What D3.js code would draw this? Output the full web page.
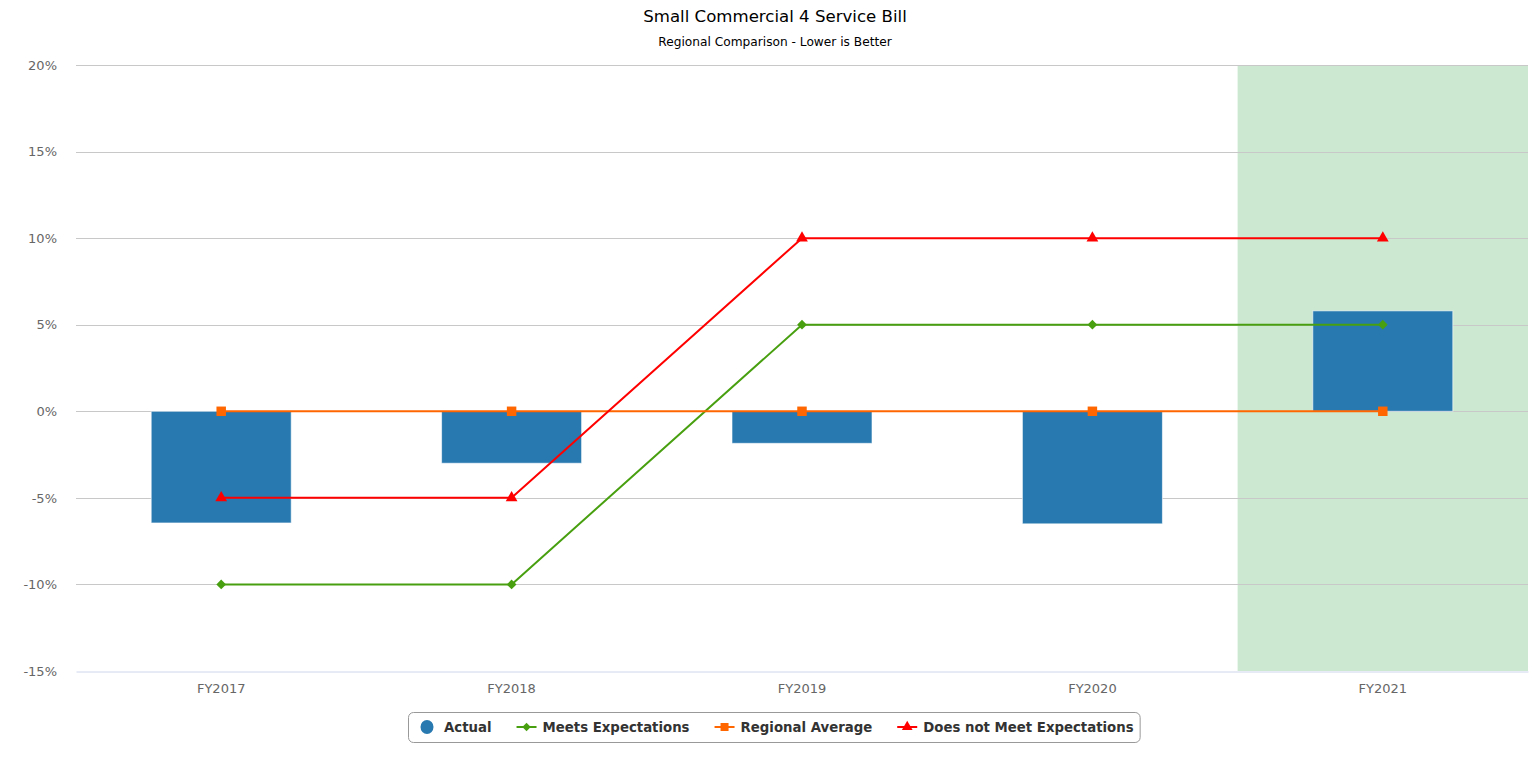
<!DOCTYPE html>
<html>
<head>
<meta charset="utf-8">
<script src="https://cdn.jsdelivr.net/npm/d3@7"></script>
<style>
  html, body { margin: 0; padding: 0; background: #fff; }
  svg { display: block; font-family: "DejaVu Sans", Verdana, sans-serif; }
</style>
</head>
<body>
<svg id="chart" width="1532" height="772"></svg>
<script>
// Fiscal years on the x axis
const categories = ["FY2017", "FY2018", "FY2019", "FY2020", "FY2021"];
// Actual bill change (%)
const actual = [-6.45, -3.0, -1.85, -6.5, 5.8];
// Thresholds (%)
const meetsExpectations = [-10, -10, 5, 5, 5];
const regionalAverage = [0, 0, 0, 0, 0];
const doesNotMeet = [-5, -5, 10, 10, 10];
// Y axis ticks (%)
const yTicks = [-15, -10, -5, 0, 5, 10, 15, 20];
// Highlighted year
const highlightYear = "FY2021";

const svg = d3.select("#chart");
const margin = { left: 76, right: 4, top: 65, bottom: 101 };
const W = 1532, H = 772;

const x = d3.scaleBand().domain(categories).range([margin.left, W - margin.right]).paddingInner(0).paddingOuter(0);
const y = d3.scaleLinear().domain([-15, 20]).range([H - margin.bottom, margin.top]);
const cx = d => x(d) + x.bandwidth() / 2;

// Title and subtitle
svg.append("text").attr("x", 775).attr("y", 22).attr("text-anchor", "middle")
  .attr("font-size", 16.6).attr("fill", "#000").text("Small Commercial 4 Service Bill");
svg.append("text").attr("x", 775).attr("y", 46).attr("text-anchor", "middle")
  .attr("font-size", 12.2).attr("fill", "#000").text("Regional Comparison - Lower is Better");

// Highlight band for the current year
svg.append("rect")
  .attr("x", x(highlightYear)).attr("y", y(20))
  .attr("width", x.bandwidth()).attr("height", y(-15) - y(20))
  .attr("fill", "#cde8d0");

// Grid lines
svg.append("g").selectAll("line").data(yTicks.filter(t => t !== -15)).join("line")
  .attr("x1", margin.left).attr("x2", W - margin.right)
  .attr("y1", d => Math.round(y(d)) + 0.5).attr("y2", d => Math.round(y(d)) + 0.5)
  .attr("stroke", "#c8c8c8").attr("stroke-width", 1);

// Y axis
const yAxis = svg.append("g").attr("transform", `translate(${margin.left - 19},0)`)
  .call(d3.axisLeft(y).tickValues(yTicks).tickFormat(d => d + "%").tickSize(0).tickPadding(0));
yAxis.select(".domain").remove();
yAxis.selectAll("text").attr("font-size", 13).attr("fill", "#666").attr("font-family", "DejaVu Sans, sans-serif");

// X axis
const xAxis = svg.append("g").attr("transform", `translate(0,${Math.round(y(-15)) + 0.5})`)
  .call(d3.axisBottom(x).tickSize(0).tickPadding(12));
xAxis.select(".domain").attr("stroke", "#ccd6eb");
xAxis.selectAll("text").attr("font-size", 13).attr("fill", "#666").attr("font-family", "DejaVu Sans, sans-serif");

// Actual columns
const barW = 140;
svg.append("g").selectAll("rect").data(actual).join("rect")
  .attr("x", (d, i) => cx(categories[i]) - barW / 2)
  .attr("y", d => y(Math.max(0, d)))
  .attr("width", barW)
  .attr("height", d => Math.abs(y(d) - y(0)))
  .attr("fill", "#2779b0")
  .attr("stroke", "#ffffff").attr("stroke-opacity", 0.6).attr("stroke-width", 1);

const line = d3.line().x((d, i) => cx(categories[i])).y(d => y(d));

function drawSeries(values, color, shape, size) {
  svg.append("path").datum(values).attr("d", line)
    .attr("fill", "none").attr("stroke", color).attr("stroke-width", 2);
  svg.append("g").selectAll("path").data(values).join("path")
    .attr("transform", (d, i) => `translate(${cx(categories[i])},${y(d)})`)
    .attr("d", d3.symbol().type(shape).size(size)())
    .attr("fill", color);
}

drawSeries(meetsExpectations, "#48a010", d3.symbolDiamond2 || d3.symbolDiamond, 60);
drawSeries(regionalAverage, "#ff6600", d3.symbolSquare, 90);
drawSeries(doesNotMeet, "#ff0000", d3.symbolTriangle, 60);

// Legend
const legendItems = [
  { name: "Actual", color: "#2779b0", type: "circle" },
  { name: "Meets Expectations", color: "#48a010", type: "line", shape: d3.symbolDiamond2 || d3.symbolDiamond, size: 45 },
  { name: "Regional Average", color: "#ff6600", type: "line", shape: d3.symbolSquare, size: 64 },
  { name: "Does not Meet Expectations", color: "#ff0000", type: "line", shape: d3.symbolTriangle, size: 50 }
];
const legend = svg.append("g");
const legendBox = legend.append("rect");
const ly = 727;
let lx = 420;
legendItems.forEach((it, i) => {
  const g = legend.append("g");
  let textX;
  if (it.type === "circle") {
    g.append("ellipse").attr("cx", lx + 7).attr("cy", ly).attr("rx", 6.5).attr("ry", 7).attr("fill", it.color);
    textX = lx + 24;
  } else {
    g.append("line").attr("x1", lx).attr("x2", lx + 20).attr("y1", ly).attr("y2", ly)
      .attr("stroke", it.color).attr("stroke-width", 2);
    g.append("path").attr("transform", `translate(${lx + 10},${ly})`)
      .attr("d", d3.symbol().type(it.shape).size(it.size)()).attr("fill", it.color);
    textX = lx + 26;
  }
  const t = g.append("text").attr("x", textX).attr("y", ly + 5)
    .attr("font-size", 13.3).attr("font-weight", "bold").attr("fill", "#333").text(it.name);
  lx = textX + t.node().getComputedTextLength() + 25;
});
legendBox.attr("x", 408.5).attr("y", 712.5).attr("width", lx - 25 + 6 - 408).attr("height", 30)
  .attr("rx", 5).attr("fill", "#fff").attr("stroke", "#999");
</script>
</body>
</html>
